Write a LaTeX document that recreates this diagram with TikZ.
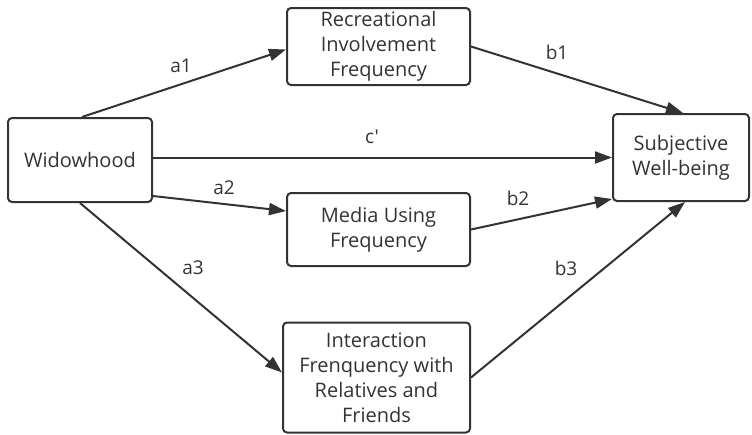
\documentclass[tikz,border=0pt]{standalone}
\usepackage{fontspec}
\setmainfont{Open Sans}[Ligatures=TeXOff]
\usetikzlibrary{arrows.meta,calc}
\definecolor{ink}{HTML}{333333}
\begin{document}
\begin{tikzpicture}[x=1pt,y=-1pt,
  box/.style={draw=ink,line width=2pt,rounded corners=4pt,align=center,text=ink,font=\fontsize{20}{25}\selectfont,inner sep=0pt},
  arr/.style={draw=ink,line width=2pt,-{Triangle[length=17pt,width=12pt]}},
  lbl/.style={text=ink,font=\fontsize{19}{22}\selectfont}]
\useasboundingbox (0,0) rectangle (752,434);
\node[box,minimum width=144pt,minimum height=84pt] (wid) at (80,160) {Widowhood};
\node[box,minimum width=183pt,minimum height=77pt] (rec) at (378.5,46.5) {Recreational\\Involvement\\Frequency};
\node[box,minimum width=136pt,minimum height=87pt] (sub) at (681,157.5) {Subjective\\Well-being};
\node[box,minimum width=183pt,minimum height=73pt] (med) at (378.5,229.5) {Media Using\\Frequency};
\node[box,minimum width=187pt,minimum height=110pt] (int) at (376.5,377.5) {Interaction\\Frenquency with\\Relatives and\\Friends};
\draw[arr] ($(wid.north)+(2,0)$) -- ($(rec.west)+(0,3)$);
\draw[arr] (rec.east) -- ($(sub.north)+(2,0)$);
\draw[arr] (wid.east |- sub.west) -- (sub.west);
\draw[arr] ($(wid.south east)+(0,-7)$) -- ($(med.north west)+(0,19)$);
\draw[arr] (med.east) -- ($(sub.south west)+(0,-3)$);
\draw[arr] (wid.south) -- ($(int.west)+(0,-5)$);
\draw[arr] (int.east) -- ($(sub.south)+(4,0)$);
\node[lbl] (la1) at (181,66) {a1};
\node[lbl] (lb1) at (557,52) {b1};
\node[lbl] (lc) at (372,137) {c'};
\node[lbl] (la2) at (224,188) {a2};
\node[lbl] (lb2) at (518,198) {b2};
\node[lbl] (la3) at (193,268) {a3};
\node[lbl] (lb3) at (566,268) {b3};
\end{tikzpicture}
\end{document}
